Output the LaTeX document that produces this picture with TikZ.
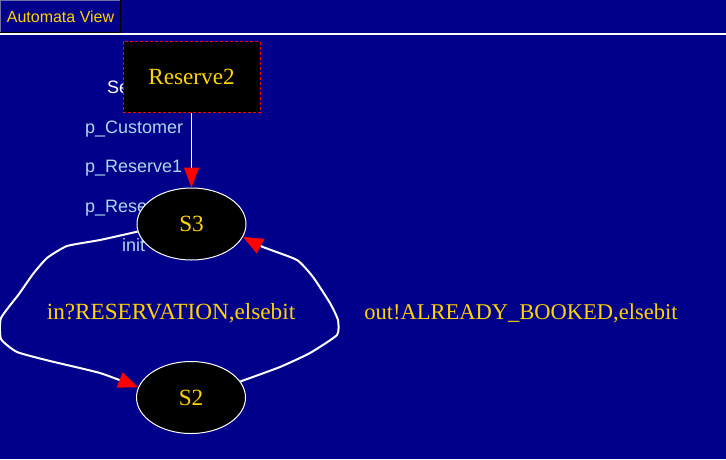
\documentclass[tikz,border=0pt]{standalone}
\usepackage{fontspec}
\setmainfont{Liberation Serif}
\newfontfamily\uisans{Liberation Sans}
\usetikzlibrary{shapes.geometric,arrows.meta}
\definecolor{bgblue}{RGB}{0,0,139}
\definecolor{goldtxt}{RGB}{255,212,0}
\definecolor{ltblue}{RGB}{173,216,230}
\definecolor{tabgray}{RGB}{110,110,170}
\tikzset{
  state/.style={ellipse, draw=white, line width=1pt, fill=black, text=goldtxt,
    minimum width=109pt, minimum height=72pt, inner sep=0pt,
    font=\fontsize{23.2}{27}\selectfont},
  modbox/.style={rectangle, draw=red, dash pattern=on 3pt off 2pt, line width=0.8pt,
    fill=black, text=goldtxt, minimum width=137pt, minimum height=71pt,
    inner sep=0pt, font=\fontsize{23.2}{27}\selectfont},
  sidelab/.style={inner sep=0pt, anchor=base west, text=ltblue,
    font=\uisans\fontsize{18}{21}\selectfont},
  edgelab/.style={inner sep=0pt, anchor=base, text=goldtxt,
    font=\fontsize{23.2}{27}\selectfont},
  wedge/.style={draw=white, line width=2pt,
    -{Triangle[length=20pt,width=16pt,color=red]}},
  thinedge/.style={draw=white, line width=1pt,
    -{Triangle[length=20pt,width=15pt,color=red]}}
}
\begin{document}
\begin{tikzpicture}[x=1pt,y=-1pt]
\useasboundingbox (0,0) rectangle (726,459);
\fill[bgblue] (0,0) rectangle (726,459);
\clip (0,0) rectangle (726,459);
% tab
\draw[tabgray, line width=1.2pt] (0.6,32) -- (0.6,0.6) -- (120,0.6);
\draw[black, line width=1.4pt] (0,32.3) -- (120.2,32.3) -- (120.2,0);
\node[inner sep=0pt, text=goldtxt, font=\uisans\fontsize{16}{19}\selectfont] (tab) at (60.5,17) {Automata View};
\draw[white, line width=2pt] (0,34.2) -- (726,34.2);
% side labels
\node[sidelab, text=white] (se) at (107,93) {Se};
\node[sidelab] (pc) at (85,133) {p\_Customer};
\node[sidelab] (pr1) at (85,172.5) {p\_Reserve1};
\node[sidelab] (pr2) at (85,212) {p\_Rese};
\node[sidelab] (init) at (122,251.5) {init};
% nodes
\node[modbox] (R2) at (191.5,77) {Reserve2};
\node[state] (S3) at (191.5,224) {S3};
\node[state] (S2) at (191,397.5) {S2};
% edges
\draw[thinedge] (R2.south) -- (S3.north);
\draw[wedge] plot[smooth, tension=0.3] coordinates {(S3.188.5) (100,240) (67,246) (47,258) (33,274) (19,294) (1,318) (1,339) (17,352) (50,361) (100,373) (S2.169.6)};
\draw[wedge] plot[smooth, tension=0.3] coordinates {(S2.18) (280,367) (310,353) (337,335) (338,320) (330,303) (313,277) (297,260) (263,247) (S3.-14)};
% edge labels
\node[edgelab] (l1) at (171,319) {in?RESERVATION,elsebit};
\node[edgelab, font=\fontsize{22.5}{26}\selectfont] (l2) at (521,319) {out!ALREADY\_BOOKED,elsebit};
\end{tikzpicture}
\end{document}
